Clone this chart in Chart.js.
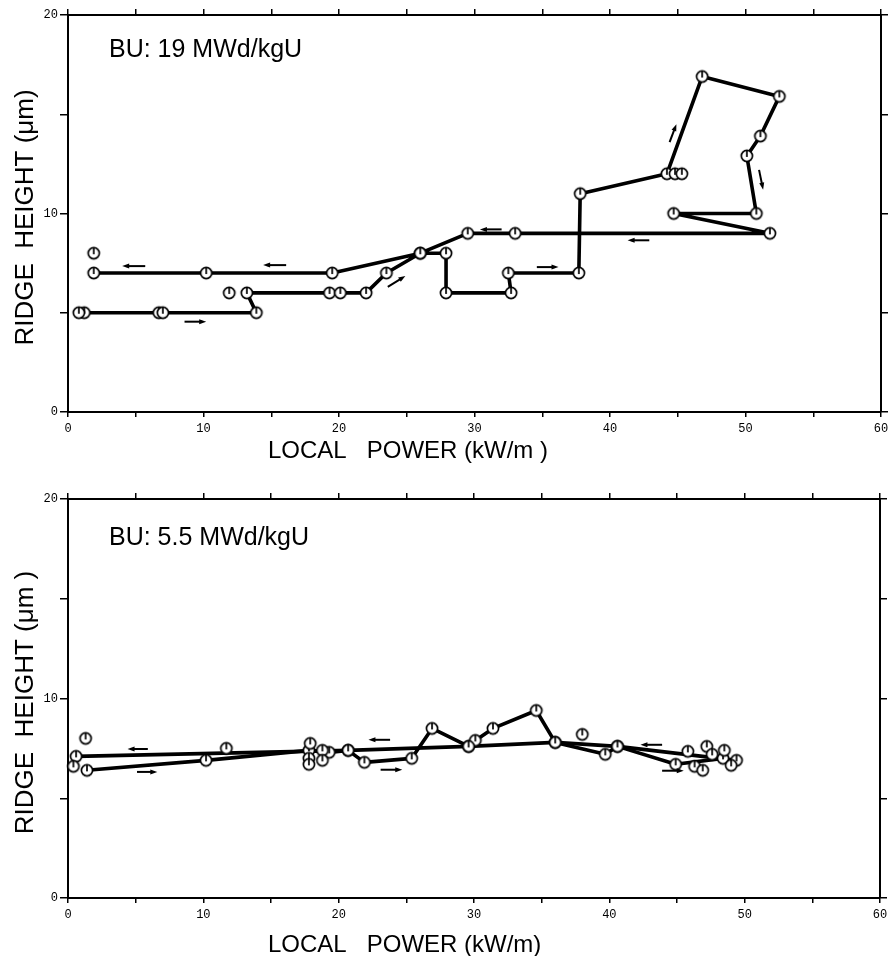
<!DOCTYPE html>
<html>
<head>
<meta charset="utf-8">
<script src="https://cdn.jsdelivr.net/npm/chart.js@4"></script>
<style>
  html, body { margin: 0; padding: 0; background: #fff; }
  .panel { width: 895px; height: 478px; }
  canvas { display: block; }
</style>
</head>
<body>
<div class="panel"><canvas id="bu19" width="895" height="478"></canvas></div>
<div class="panel"><canvas id="bu55" width="895" height="478"></canvas></div>
<script>
// ---- BU 19 MWd/kgU: ramp history in test order ----
const bu19Power = [1.2, 6.7, 7.0, 13.9, 13.2, 19.3, 20.1, 22.0, 23.5, 26.0, 27.9, 27.9, 32.7, 32.5, 37.7,
                   37.8, 44.2, 46.8, 52.5, 51.1, 50.1, 50.8, 44.7, 51.8, 33.0, 29.5, 26.0, 19.5, 10.2, 1.9];
const bu19Ridge = [5.0, 5.0, 5.0, 5.0, 6.0, 6.0, 6.0, 6.0, 7.0, 8.0, 8.0, 6.0, 6.0, 7.0, 7.0,
                   11.0, 12.0, 16.9, 15.9, 13.9, 12.9, 10.0, 10.0, 9.0, 9.0, 9.0, 8.0, 7.0, 7.0, 7.0];
// measurements not joined by the line
const bu19LonePower = [0.8, 1.9, 11.9, 44.8, 45.3];
const bu19LoneRidge = [5.0, 8.0, 6.0, 12.0, 12.0];
// direction arrows: [fromPower, fromRidge, toPower, toRidge]
const bu19Arrows = [
  [5.7, 7.35, 4.0, 7.35], [16.1, 7.4, 14.4, 7.4], [8.6, 4.55, 10.2, 4.55], [23.6, 6.3, 24.9, 6.85],
  [32.0, 9.2, 30.4, 9.2], [34.6, 7.3, 36.2, 7.3], [42.9, 8.65, 41.3, 8.65],
  [44.4, 13.6, 44.9, 14.5], [51.0, 12.2, 51.3, 11.2]
];

// ---- BU 5.5 MWd/kgU ----
const bu55UpPower = [1.4, 10.2, 17.8, 19.3, 20.7, 21.9, 25.4, 26.9, 29.6, 30.1, 31.4, 34.6, 36.0, 39.7, 40.6, 44.9, 48.4];
const bu55UpRidge = [6.4, 6.9, 7.4, 7.3, 7.4, 6.8, 7.0, 8.5, 7.6, 7.9, 8.5, 9.4, 7.8, 7.2, 7.6, 6.7, 7.0];
const bu55DownPower = [49.4, 40.6, 36.0, 29.6, 20.7, 0.6];
const bu55DownRidge = [6.9, 7.6, 7.8, 7.6, 7.4, 7.1];
const bu55LonePower = [0.4, 1.3, 11.7, 17.9, 17.8, 17.8, 18.8, 18.8, 38.0, 45.8, 46.3, 46.9, 47.2, 47.6, 48.5, 49.0];
const bu55LoneRidge = [6.6, 8.0, 7.5, 7.75, 7.0, 6.7, 7.4, 6.9, 8.2, 7.35, 6.6, 6.4, 7.6, 7.2, 7.4, 6.65];
const bu55Arrows = [
  [5.9, 7.47, 4.4, 7.47], [5.1, 6.32, 6.6, 6.32], [23.8, 7.93, 22.2, 7.93],
  [23.1, 6.43, 24.7, 6.43], [43.9, 7.68, 42.3, 7.68], [43.9, 6.38, 45.5, 6.38]
];

const xTicks = [0, 10, 20, 30, 40, 50, 60];
const yTicks = [0, 10, 20];

Chart.defaults.font.family = 'Liberation Sans';
Chart.defaults.color = '#000';

const pts = (xs, ys) => xs.map((x, i) => ({ x: x, y: ys[i] }));

// open circle with a short stroke pointing up, as on the plotter
function makeMarker(r) {
  const c = document.createElement('canvas');
  const s = Math.ceil(r * 2 + 4);
  c.width = c.height = s;
  const g = c.getContext('2d');
  g.fillStyle = '#fff';
  g.strokeStyle = '#000';
  g.lineWidth = 1.7;
  g.beginPath();
  g.arc(s / 2, s / 2, r, 0, Math.PI * 2);
  g.fill();
  g.stroke();
  g.beginPath();
  g.moveTo(s / 2, s / 2 + 1);
  g.lineTo(s / 2, s / 2 - r);
  g.stroke();
  return c;
}
const marker = makeMarker(5.6);

const annotate = {
  id: 'annotate',
  afterDatasetsDraw(chart, args, o) {
    const { ctx, scales: { x, y } } = chart;
    ctx.save();
    ctx.strokeStyle = '#000';
    ctx.fillStyle = '#000';
    ctx.lineWidth = 2;
    for (const [x1, y1, x2, y2] of o.arrows) {
      const ax = x.getPixelForValue(x1), ay = y.getPixelForValue(y1);
      const bx = x.getPixelForValue(x2), by = y.getPixelForValue(y2);
      const ang = Math.atan2(by - ay, bx - ax);
      ctx.beginPath();
      ctx.moveTo(ax, ay);
      ctx.lineTo(bx - 4 * Math.cos(ang), by - 4 * Math.sin(ang));
      ctx.stroke();
      ctx.beginPath();
      ctx.moveTo(bx, by);
      ctx.lineTo(bx - 7 * Math.cos(ang) + 2.5 * Math.sin(ang), by - 7 * Math.sin(ang) - 2.5 * Math.cos(ang));
      ctx.lineTo(bx - 7 * Math.cos(ang) - 2.5 * Math.sin(ang), by - 7 * Math.sin(ang) + 2.5 * Math.cos(ang));
      ctx.closePath();
      ctx.fill();
    }
    ctx.restore();
  },
  afterDraw(chart, args, o) {
    const { ctx, chartArea: a } = chart;
    ctx.save();
    ctx.fillStyle = '#000';
    ctx.textBaseline = 'alphabetic';
    ctx.textAlign = 'left';
    ctx.font = '25px "Liberation Sans"';
    ctx.fillText(o.label, a.left + 41, a.top + o.labelDrop);
    ctx.font = '24px "Liberation Sans"';
    ctx.fillText(o.xTitle, a.left + 200, a.bottom + o.xTitleDrop);
    ctx.font = '26px "Liberation Sans"';
    ctx.translate(33, (a.top + a.bottom) / 2 + 4);
    ctx.rotate(-Math.PI / 2);
    ctx.textAlign = 'center';
    ctx.fillText(o.yTitle, 0, 0);
    ctx.restore();
  }
};

const tickFont = { family: 'Liberation Mono', size: 12 };
const frame = { color: '#000', width: 2 };

function scales(box) {
  const grid = len => ({ drawOnChartArea: false, color: '#000', lineWidth: 1.5, tickLength: len });
  return {
    x: {
      type: 'linear', position: 'bottom', min: 0, max: 60,
      ticks: { stepSize: 5, autoSkip: false, maxRotation: 0, padding: 5, font: tickFont,
               callback: v => xTicks.includes(v) ? v : '' },
      grid: grid(5), border: frame,
      afterFit: s => { s.height = box.bottom; }
    },
    x2: {
      type: 'linear', position: 'top', min: 0, max: 60,
      ticks: { display: false, stepSize: 5 },
      grid: grid(6), border: frame,
      afterFit: s => { s.height = box.top; }
    },
    y: {
      type: 'linear', position: 'left', min: 0, max: 20,
      ticks: { stepSize: 5, padding: 2, font: tickFont,
               callback: v => yTicks.includes(v) ? v : '' },
      grid: grid(8), border: frame,
      afterFit: s => { s.width = 68; }
    },
    y2: {
      type: 'linear', position: 'right', min: 0, max: 20,
      ticks: { display: false, stepSize: 5 },
      grid: grid(7), border: frame,
      afterFit: s => { s.width = box.right; }
    }
  };
}

function pathSet(data) {
  return { data: data, showLine: true, borderColor: '#000', borderWidth: 3.6, tension: 0,
           borderJoinStyle: 'round', borderCapStyle: 'round', pointRadius: 0, order: 1 };
}
function markerSet(data) {
  return { data: data, showLine: false, pointStyle: marker, pointRadius: 6, clip: false, order: 0 };
}

function panel(id, datasets, box, notes) {
  new Chart(document.getElementById(id), {
    type: 'scatter',
    data: { datasets: datasets },
    options: {
      responsive: false,
      animation: false,
      events: [],
      layout: { padding: 0 },
      scales: scales(box),
      plugins: { legend: { display: false }, tooltip: { enabled: false }, annotate: notes }
    },
    plugins: [annotate]
  });
}

const bu19Path = pts(bu19Power, bu19Ridge);
panel('bu19', [
  markerSet(bu19Path.concat(pts(bu19LonePower, bu19LoneRidge))),
  pathSet(bu19Path)
], { top: 15, bottom: 66, right: 14 }, {
  arrows: bu19Arrows, label: 'BU: 19 MWd/kgU', labelDrop: 42,
  xTitle: 'LOCAL   POWER (kW/m )', xTitleDrop: 46, yTitle: 'RIDGE  HEIGHT (μm)'
});

const bu55Up = pts(bu55UpPower, bu55UpRidge);
const bu55Down = pts(bu55DownPower, bu55DownRidge);
panel('bu55', [
  markerSet(bu55Up.concat(bu55Down, pts(bu55LonePower, bu55LoneRidge))),
  pathSet(bu55Up),
  pathSet(bu55Down)
], { top: 21, bottom: 58, right: 15 }, {
  arrows: bu55Arrows, label: 'BU: 5.5 MWd/kgU', labelDrop: 46,
  xTitle: 'LOCAL   POWER (kW/m)', xTitleDrop: 54, yTitle: 'RIDGE  HEIGHT (μm )'
});
</script>
</body>
</html>
